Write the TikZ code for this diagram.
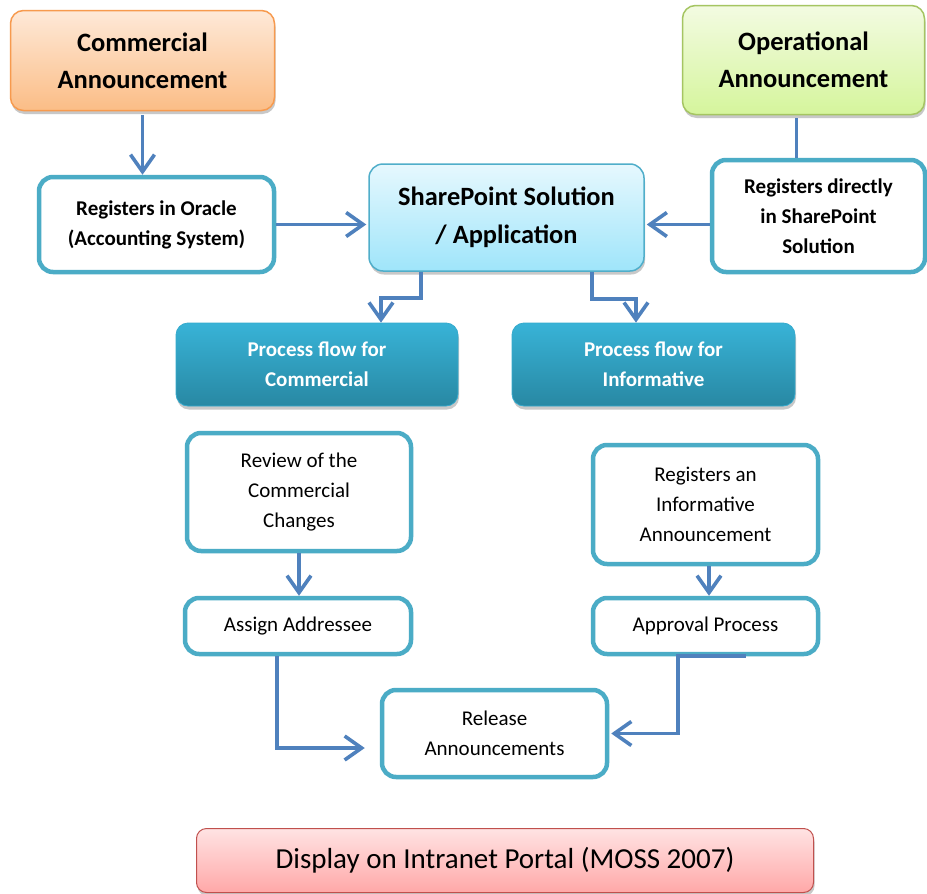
\documentclass[tikz,border=0pt]{standalone}
\usepackage{fontspec}
\setmainfont{Carlito}
\usetikzlibrary{arrows.meta,shadows}
\definecolor{connc}{HTML}{4F81BD}
\definecolor{tealc}{HTML}{4BACC6}
\definecolor{combd}{HTML}{F79A4E}
\definecolor{comtop}{HTML}{FEE9D8}
\definecolor{combot}{HTML}{FBBD86}
\definecolor{opbd}{HTML}{A5C562}
\definecolor{optop}{HTML}{F3FBE2}
\definecolor{opbot}{HTML}{D5F59C}
\definecolor{spbd}{HTML}{50AECA}
\definecolor{sptop}{HTML}{E6F8FE}
\definecolor{spbot}{HTML}{9FE5FA}
\definecolor{pftop}{HTML}{38B3D7}
\definecolor{pfbot}{HTML}{2888A3}
\definecolor{dsbd}{HTML}{C0504D}
\definecolor{dstop}{HTML}{FFE3E3}
\definecolor{dsbot}{HTML}{FFA8A8}
\newcommand\ftitle{\fontsize{26.5}{37}\selectfont\bfseries}
\newcommand\fsp{\fontsize{26.4}{38}\selectfont\bfseries}
\newcommand\fbld{\fontsize{21}{30}\selectfont\bfseries}
\newcommand\fnrm{\fontsize{21}{30}\selectfont}
\newcommand\fdsp{\fontsize{29}{35}\selectfont}
\tikzset{
  conn/.style={draw=connc, line width=3.6pt, -{Straight Barb[length=17pt,width=24pt]}},
  connplain/.style={draw=connc, line width=3.6pt},
  softshadow/.style={drop shadow={shadow xshift=1pt, shadow yshift=-3.5pt, opacity=0.3, fill=black!70}},
  tealbox/.style={draw=tealc, line width=4.5pt, fill=white, rounded corners=14pt, align=center, inner sep=0pt},
  combox/.style={draw=combd, line width=1.5pt, top color=comtop, bottom color=combot, rounded corners=13pt, align=center, inner sep=0pt, softshadow},
  opbox/.style={draw=opbd, line width=1.5pt, top color=optop, bottom color=opbot, rounded corners=13pt, align=center, inner sep=0pt, softshadow},
  spbox/.style={draw=spbd, line width=1.5pt, top color=sptop, bottom color=spbot, rounded corners=14pt, align=center, inner sep=0pt, softshadow},
  pfbox/.style={draw=pftop!80!pfbot, line width=0.8pt, top color=pftop, bottom color=pfbot, rounded corners=12pt, align=center, inner sep=0pt, text=white, softshadow},
  dsbox/.style={draw=dsbd, line width=1pt, top color=dstop, bottom color=dsbot, rounded corners=10pt, align=center, inner sep=0pt, softshadow},
}
\begin{document}
\begin{tikzpicture}[x=1pt,y=-1pt]
\useasboundingbox (0,0) rectangle (927,894);
\fill[white] (0,0) rectangle (927,894);

\node[combox, minimum width=264pt, minimum height=100pt, font=\ftitle] (comm) at (142.5,60.5) {Commercial\\Announcement};
\node[opbox, minimum width=242pt, minimum height=109pt, font=\ftitle] (oper) at (803.5,60) {Operational\\Announcement};
\node[tealbox, minimum width=235pt, minimum height=95pt, font=\fbld] (oracle) at (156.5,224.5) {Registers in Oracle\\(Accounting System)};
\node[spbox, minimum width=275pt, minimum height=107pt, font=\fsp] (sp) at (506.5,217.5) {SharePoint Solution\\/ Application};
\node[tealbox, minimum width=213pt, minimum height=112pt, font=\fbld] (regdir) at (818.5,216) {Registers directly\\in SharePoint\\Solution};
\node[pfbox, minimum width=282pt, minimum height=83pt, font=\fbld] (pfc) at (317,364.5) {Process flow for\\Commercial};
\node[pfbox, minimum width=283pt, minimum height=83pt, font=\fbld] (pfi) at (653.5,364.5) {Process flow for\\Informative};
\node[tealbox, minimum width=224pt, minimum height=118pt, font=\fnrm] (review) at (299,492) {Review of the\\Commercial\\Changes};
\node[tealbox, minimum width=226pt, minimum height=56pt, font=\fnrm] (assign) at (298,626) {Assign Addressee};
\node[tealbox, minimum width=225pt, minimum height=119pt, font=\fnrm] (reginf) at (705.5,504.5) {Registers an\\Informative\\Announcement};
\node[tealbox, minimum width=225pt, minimum height=56pt, font=\fnrm] (approval) at (705.5,626) {Approval Process};
\node[tealbox, minimum width=225pt, minimum height=87pt, font=\fnrm] (release) at (494.5,733.5) {Release\\Announcements};
\node[dsbox, minimum width=617pt, minimum height=64pt, font=\fdsp] (display) at (505,860.5) {Display on Intranet Portal (MOSS 2007)};

% connectors
\draw[conn] ([yshift=-4pt]comm.south) -- (comm.south |- oracle.north);
\draw[conn] (oracle.east) -- ([xshift=-2pt]sp.west |- oracle.east);
\draw[connplain] ([xshift=-7pt,yshift=-3pt]oper.south) -- ([xshift=-7pt]oper.south |- regdir.north);
\draw[conn] (regdir.west |- oracle.east) -- ([xshift=2pt]sp.east |- oracle.east);
\draw[conn] ([xshift=-85.5pt]sp.south) -- ++(0,26) -| ([xshift=64pt]pfc.north);
\draw[conn] ([xshift=85.5pt]sp.south) -- ++(0,27) -| ([xshift=-17.5pt]pfi.north);
\draw[conn] (review.south) -- (review.south |- assign.north);
\draw[conn] ([xshift=3.5pt]reginf.south) -- ([xshift=3.5pt]reginf.south |- approval.north);
\draw[conn] ([xshift=-21pt]assign.south) |- ([xshift=-15pt,yshift=-14.5pt]release.west);
\draw[conn] ([xshift=40pt]approval.south) -- ([xshift=-27.5pt]approval.south) |- ([xshift=2pt]release.east);
\end{tikzpicture}
\end{document}
